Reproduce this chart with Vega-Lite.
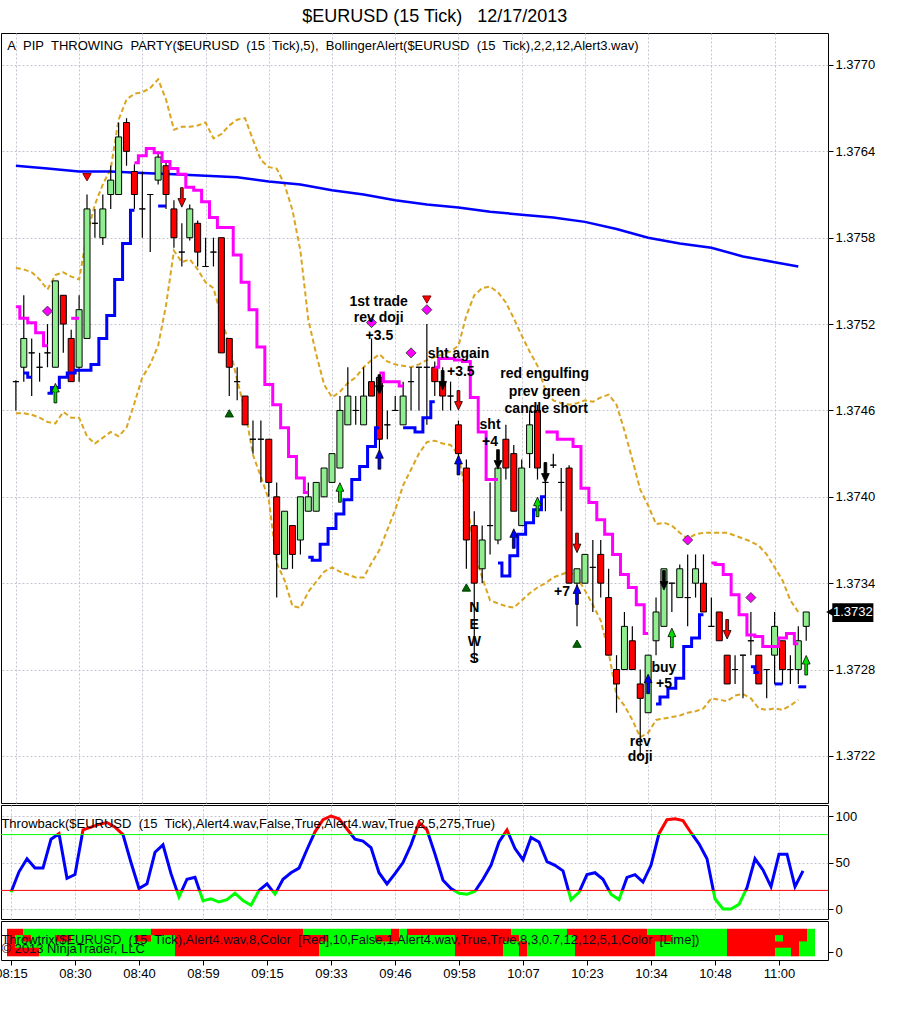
{
"$schema": "https://vega.github.io/schema/vega-lite/v6.json",
"padding": {"left": -6, "top": 7, "right": 2, "bottom": 2},
"background": "#ffffff",
"title": {"text": "$EURUSD (15 Tick)\u00a0\u00a0 12/17/2013", "fontSize": 18, "fontWeight": "normal", "color": "#000000", "anchor": "middle", "offset": 7, "font": "Liberation Sans"},
"spacing": 0,
"resolve": {"scale": {"color": "independent", "fill": "independent"}},
"config": {
 "font": "Liberation Sans",
 "view": {"stroke": "#000000", "strokeWidth": 1},
 "axis": {"labelFont": "Liberation Sans", "labelFontSize": 13, "labelColor": "#000000", "tickColor": "#000000", "domainColor": "#000000", "gridColor": "#c4c4d0", "gridDash": [2, 2], "gridWidth": 1, "tickSize": 5, "labelPadding": 2}
},
"datasets": {
 "bars": [
  {"i":0,"o":1.3748,"h":1.37481,"l":1.3746,"c":1.3748},
  {"i":1,"o":1.3749,"h":1.3754,"l":1.3748,"c":1.3751},
  {"i":2,"o":1.375,"h":1.3751,"l":1.3747,"c":1.375},
  {"i":3,"o":1.3749,"h":1.375,"l":1.3748,"c":1.3749},
  {"i":4,"o":1.375,"h":1.3752,"l":1.3749,"c":1.375},
  {"i":5,"o":1.3749,"h":1.3755,"l":1.3749,"c":1.3755},
  {"i":6,"o":1.3754,"h":1.3754,"l":1.375,"c":1.3752},
  {"i":7,"o":1.3751,"h":1.37516,"l":1.3748,"c":1.3748},
  {"i":8,"o":1.3749,"h":1.3754,"l":1.3748,"c":1.3753},
  {"i":9,"o":1.3751,"h":1.3761,"l":1.3751,"c":1.376},
  {"i":10,"o":1.3759,"h":1.376,"l":1.3758,"c":1.3759},
  {"i":11,"o":1.3758,"h":1.3761,"l":1.37575,"c":1.376},
  {"i":12,"o":1.3761,"h":1.3763,"l":1.376,"c":1.3762},
  {"i":13,"o":1.3761,"h":1.3766,"l":1.3761,"c":1.3765},
  {"i":14,"o":1.3766,"h":1.37663,"l":1.3763,"c":1.3764},
  {"i":15,"o":1.37626,"h":1.37631,"l":1.376,"c":1.3761},
  {"i":16,"o":1.376,"h":1.37626,"l":1.3758,"c":1.376},
  {"i":17,"o":1.3761,"h":1.3761,"l":1.3757,"c":1.3761},
  {"i":18,"o":1.3762,"h":1.3764,"l":1.37617,"c":1.37636},
  {"i":19,"o":1.3763,"h":1.37634,"l":1.376,"c":1.3761},
  {"i":20,"o":1.376,"h":1.37606,"l":1.37573,"c":1.3758},
  {"i":21,"o":1.3757,"h":1.3759,"l":1.3756,"c":1.3757},
  {"i":22,"o":1.3758,"h":1.37603,"l":1.37578,"c":1.376},
  {"i":23,"o":1.3759,"h":1.37592,"l":1.3756,"c":1.3757},
  {"i":24,"o":1.3756,"h":1.3758,"l":1.3756,"c":1.3756},
  {"i":25,"o":1.3757,"h":1.3758,"l":1.3756,"c":1.3757},
  {"i":26,"o":1.3758,"h":1.3758,"l":1.375,"c":1.375},
  {"i":27,"o":1.3751,"h":1.3751,"l":1.3747,"c":1.3749},
  {"i":28,"o":1.3748,"h":1.3749,"l":1.37467,"c":1.3748},
  {"i":29,"o":1.3747,"h":1.3747,"l":1.3745,"c":1.3745},
  {"i":30,"o":1.3744,"h":1.37453,"l":1.3743,"c":1.3744},
  {"i":31,"o":1.3744,"h":1.37453,"l":1.3741,"c":1.3744},
  {"i":32,"o":1.3744,"h":1.3744,"l":1.374,"c":1.3741},
  {"i":33,"o":1.374,"h":1.3741,"l":1.3733,"c":1.3736},
  {"i":34,"o":1.3735,"h":1.3739,"l":1.3735,"c":1.3739},
  {"i":35,"o":1.3738,"h":1.3738,"l":1.3735,"c":1.3736},
  {"i":36,"o":1.3737,"h":1.374,"l":1.3736,"c":1.374},
  {"i":37,"o":1.3739,"h":1.3741,"l":1.3739,"c":1.374},
  {"i":38,"o":1.3739,"h":1.3741,"l":1.3739,"c":1.3741},
  {"i":39,"o":1.374,"h":1.3742,"l":1.374,"c":1.3742},
  {"i":40,"o":1.3741,"h":1.3743,"l":1.3741,"c":1.3743},
  {"i":41,"o":1.3742,"h":1.3747,"l":1.3742,"c":1.3746},
  {"i":42,"o":1.3745,"h":1.3749,"l":1.3745,"c":1.3747},
  {"i":43,"o":1.3746,"h":1.3747,"l":1.3745,"c":1.3746},
  {"i":44,"o":1.3745,"h":1.3749,"l":1.3745,"c":1.3747},
  {"i":45,"o":1.3748,"h":1.3751,"l":1.3747,"c":1.3747},
  {"i":46,"o":1.37483,"h":1.37485,"l":1.3742,"c":1.3744},
  {"i":47,"o":1.3745,"h":1.3746,"l":1.3744,"c":1.3745},
  {"i":48,"o":1.3746,"h":1.3747,"l":1.3746,"c":1.3746},
  {"i":49,"o":1.3745,"h":1.3748,"l":1.3745,"c":1.3747},
  {"i":50,"o":1.3748,"h":1.3749,"l":1.3746,"c":1.3748},
  {"i":51,"o":1.3749,"h":1.3749,"l":1.3746,"c":1.3749},
  {"i":52,"o":1.3749,"h":1.3752,"l":1.3745,"c":1.3749},
  {"i":53,"o":1.3749,"h":1.37494,"l":1.3747,"c":1.3748},
  {"i":54,"o":1.3748,"h":1.3749,"l":1.3746,"c":1.3747},
  {"i":55,"o":1.3747,"h":1.3748,"l":1.3746,"c":1.3747},
  {"i":56,"o":1.3745,"h":1.37453,"l":1.3742,"c":1.3743},
  {"i":57,"o":1.3742,"h":1.37426,"l":1.3735,"c":1.3737},
  {"i":58,"o":1.3738,"h":1.3739,"l":1.37285,"c":1.3734},
  {"i":59,"o":1.3735,"h":1.3738,"l":1.3734,"c":1.3737},
  {"i":60,"o":1.3738,"h":1.3741,"l":1.3736,"c":1.3738},
  {"i":61,"o":1.3737,"h":1.3742,"l":1.37367,"c":1.3742},
  {"i":62,"o":1.3744,"h":1.3745,"l":1.37412,"c":1.3742},
  {"i":63,"o":1.3743,"h":1.37436,"l":1.3739,"c":1.3739},
  {"i":64,"o":1.3738,"h":1.37426,"l":1.3738,"c":1.3742},
  {"i":65,"o":1.3743,"h":1.3746,"l":1.3742,"c":1.3745},
  {"i":66,"o":1.3746,"h":1.37464,"l":1.37412,"c":1.3742},
  {"i":67,"o":1.3741,"h":1.37424,"l":1.3739,"c":1.3741},
  {"i":68,"o":1.37422,"h":1.3743,"l":1.3742,"c":1.37422},
  {"i":69,"o":1.3741,"h":1.3742,"l":1.3739,"c":1.3741},
  {"i":70,"o":1.3742,"h":1.37422,"l":1.3734,"c":1.3734},
  {"i":71,"o":1.3734,"h":1.3735,"l":1.3731,"c":1.3735},
  {"i":72,"o":1.3734,"h":1.3736,"l":1.3734,"c":1.3736},
  {"i":73,"o":1.37351,"h":1.3737,"l":1.3732,"c":1.37351},
  {"i":74,"o":1.3736,"h":1.3737,"l":1.3733,"c":1.3734},
  {"i":75,"o":1.3733,"h":1.3735,"l":1.3729,"c":1.3729},
  {"i":76,"o":1.3728,"h":1.3729,"l":1.3725,"c":1.3727},
  {"i":77,"o":1.3728,"h":1.3732,"l":1.3728,"c":1.3731},
  {"i":78,"o":1.373,"h":1.3731,"l":1.3728,"c":1.3728},
  {"i":79,"o":1.3727,"h":1.3728,"l":1.3722,"c":1.3726},
  {"i":80,"o":1.3725,"h":1.3729,"l":1.3725,"c":1.3729},
  {"i":81,"o":1.373,"h":1.3733,"l":1.3729,"c":1.3732},
  {"i":82,"o":1.3731,"h":1.3735,"l":1.3731,"c":1.3735},
  {"i":83,"o":1.3734,"h":1.3734,"l":1.3732,"c":1.3734},
  {"i":84,"o":1.3733,"h":1.37353,"l":1.3733,"c":1.3735},
  {"i":85,"o":1.3733,"h":1.3736,"l":1.3731,"c":1.3733},
  {"i":86,"o":1.3734,"h":1.3736,"l":1.3733,"c":1.3735},
  {"i":87,"o":1.3734,"h":1.3736,"l":1.3732,"c":1.3732},
  {"i":88,"o":1.3731,"h":1.3733,"l":1.3731,"c":1.3731},
  {"i":89,"o":1.3732,"h":1.3732,"l":1.373,"c":1.373},
  {"i":90,"o":1.3729,"h":1.3729,"l":1.3727,"c":1.3727},
  {"i":91,"o":1.3728,"h":1.3729,"l":1.3727,"c":1.3728},
  {"i":92,"o":1.3729,"h":1.3729,"l":1.3726,"c":1.3729},
  {"i":93,"o":1.373,"h":1.3732,"l":1.3729,"c":1.373},
  {"i":94,"o":1.3729,"h":1.3729,"l":1.3727,"c":1.3727},
  {"i":95,"o":1.3728,"h":1.3728,"l":1.3726,"c":1.3728},
  {"i":96,"o":1.3729,"h":1.3732,"l":1.3727,"c":1.3731},
  {"i":97,"o":1.373,"h":1.373,"l":1.3727,"c":1.3728},
  {"i":98,"o":1.3728,"h":1.3729,"l":1.3727,"c":1.3728},
  {"i":99,"o":1.3728,"h":1.3731,"l":1.3727,"c":1.373},
  {"i":100,"o":1.3731,"h":1.3732,"l":1.373,"c":1.3732}
 ],
 "bands": [
  {"i":0,"up":1.37559,"lo":1.37458},{"i":1,"up":1.37558,"lo":1.37458},{"i":2,"up":1.37556,"lo":1.37457},{"i":3,"up":1.37551,"lo":1.37455},{"i":4,"up":1.37544,"lo":1.37452},
  {"i":5,"up":1.37554,"lo":1.37451},{"i":6,"up":1.37556,"lo":1.37459},{"i":7,"up":1.37553,"lo":1.37455},{"i":8,"up":1.37551,"lo":1.37455},{"i":9,"up":1.37582,"lo":1.37442},
  {"i":10,"up":1.37603,"lo":1.37437},{"i":11,"up":1.37617,"lo":1.37441},{"i":12,"up":1.37628,"lo":1.37445},{"i":13,"up":1.37662,"lo":1.37442},{"i":14,"up":1.37676,"lo":1.37448},
  {"i":15,"up":1.3768,"lo":1.37465},{"i":16,"up":1.37681,"lo":1.37483},{"i":17,"up":1.37684,"lo":1.37492},{"i":18,"up":1.3769,"lo":1.37505},{"i":19,"up":1.37676,"lo":1.37533},
  {"i":20,"up":1.37655,"lo":1.37571},{"i":21,"up":1.37657,"lo":1.37563},{"i":22,"up":1.37657,"lo":1.37565},{"i":23,"up":1.37658,"lo":1.37558},{"i":24,"up":1.3766,"lo":1.37549},
  {"i":25,"up":1.37649,"lo":1.37545},{"i":26,"up":1.37652,"lo":1.37525},{"i":27,"up":1.37658,"lo":1.37505},{"i":28,"up":1.37662,"lo":1.37481},{"i":29,"up":1.37663,"lo":1.3746},
  {"i":30,"up":1.37648,"lo":1.37429},{"i":31,"up":1.37634,"lo":1.37414},{"i":32,"up":1.37629,"lo":1.37398},{"i":33,"up":1.37628,"lo":1.37354},{"i":34,"up":1.37617,"lo":1.37342},
  {"i":35,"up":1.37599,"lo":1.37324},{"i":36,"up":1.37571,"lo":1.37323},{"i":37,"up":1.37523,"lo":1.37334},{"i":38,"up":1.37499,"lo":1.37341},{"i":39,"up":1.37478,"lo":1.37348},
  {"i":40,"up":1.37469,"lo":1.37351},{"i":41,"up":1.37473,"lo":1.37348},{"i":42,"up":1.37479,"lo":1.37346},{"i":43,"up":1.37483,"lo":1.37344},{"i":44,"up":1.3749,"lo":1.37344},
  {"i":45,"up":1.37495,"lo":1.37354},{"i":46,"up":1.37499,"lo":1.37363},{"i":47,"up":1.37494,"lo":1.37377},{"i":48,"up":1.37492,"lo":1.37391},{"i":49,"up":1.37491,"lo":1.37408},
  {"i":50,"up":1.3749,"lo":1.37419},{"i":51,"up":1.37492,"lo":1.3743},{"i":52,"up":1.37495,"lo":1.37438},{"i":53,"up":1.37497,"lo":1.37439},{"i":54,"up":1.37499,"lo":1.37437},
  {"i":55,"up":1.37501,"lo":1.37436},{"i":56,"up":1.37505,"lo":1.37429},{"i":57,"up":1.37526,"lo":1.37401},{"i":58,"up":1.3754,"lo":1.37361},{"i":59,"up":1.37545,"lo":1.37344},
  {"i":60,"up":1.37546,"lo":1.37328},{"i":61,"up":1.37542,"lo":1.37326},{"i":62,"up":1.37535,"lo":1.37324},{"i":63,"up":1.37524,"lo":1.37323},{"i":64,"up":1.37512,"lo":1.37328},
  {"i":65,"up":1.37501,"lo":1.37333},{"i":66,"up":1.37491,"lo":1.37337},{"i":67,"up":1.37474,"lo":1.3734},{"i":68,"up":1.37467,"lo":1.37344},{"i":69,"up":1.37465,"lo":1.37346},
  {"i":70,"up":1.37464,"lo":1.37348},{"i":71,"up":1.37465,"lo":1.37344},{"i":72,"up":1.37467,"lo":1.37335},{"i":73,"up":1.37466,"lo":1.37325},{"i":74,"up":1.37469,"lo":1.37314},
  {"i":75,"up":1.37471,"lo":1.37292},{"i":76,"up":1.37464,"lo":1.37262},{"i":77,"up":1.37446,"lo":1.37255},{"i":78,"up":1.37426,"lo":1.37245},{"i":79,"up":1.37405,"lo":1.37233},
  {"i":80,"up":1.37394,"lo":1.37236},{"i":81,"up":1.37381,"lo":1.37245},{"i":82,"up":1.37382,"lo":1.37246},{"i":83,"up":1.3738,"lo":1.37247},{"i":84,"up":1.37375,"lo":1.37248},
  {"i":85,"up":1.37371,"lo":1.3725},{"i":86,"up":1.37374,"lo":1.37251},{"i":87,"up":1.37375,"lo":1.37253},{"i":88,"up":1.37375,"lo":1.3726},{"i":89,"up":1.37375,"lo":1.37259},
  {"i":90,"up":1.37375,"lo":1.37258},{"i":91,"up":1.37373,"lo":1.37262},{"i":92,"up":1.37371,"lo":1.37263},{"i":93,"up":1.37369,"lo":1.3726},{"i":94,"up":1.37366,"lo":1.37253},
  {"i":95,"up":1.3736,"lo":1.37252},{"i":96,"up":1.37351,"lo":1.37253},{"i":97,"up":1.37342,"lo":1.37252},{"i":98,"up":1.37328,"lo":1.37255},{"i":99,"up":1.3732,"lo":1.37259}
 ],
 "ma": [
  {"i":0,"v":1.3763},{"i":4,"v":1.37628},{"i":8,"v":1.37626},{"i":12,"v":1.37626},{"i":16,"v":1.37625},{"i":20,"v":1.37624},{"i":24,"v":1.37623},{"i":28,"v":1.37622},{"i":32,"v":1.37619},{"i":36,"v":1.37617},{"i":40,"v":1.37613},{"i":44,"v":1.3761},{"i":48,"v":1.37606},{"i":52,"v":1.37603},{"i":56,"v":1.37601},{"i":60,"v":1.37598},{"i":64,"v":1.37596},{"i":68,"v":1.37594},{"i":72,"v":1.37591},{"i":76,"v":1.37586},{"i":80,"v":1.3758},{"i":84,"v":1.37576},{"i":88,"v":1.37573},{"i":92,"v":1.37567},{"i":96,"v":1.37563},{"i":99,"v":1.3756}
 ],
 "stops": [
  {"i":0,"v":1.37532,"s":"s1","k":"short"},{"i":1,"v":1.37524,"s":"s1","k":"short"},{"i":2,"v":1.37521,"s":"s1","k":"short"},{"i":3,"v":1.37514,"s":"s1","k":"short"},{"i":4,"v":1.37505,"s":"s1","k":"short"},
  {"i":7,"v":1.37524,"s":"s2","k":"short"},{"i":8,"v":1.37524,"s":"s2","k":"short"},
  {"i":15,"v":1.37632,"s":"s3","k":"short"},{"i":16,"v":1.37637,"s":"s3","k":"short"},{"i":17,"v":1.37642,"s":"s3","k":"short"},{"i":18,"v":1.37639,"s":"s3","k":"short"},{"i":19,"v":1.37633,"s":"s3","k":"short"},{"i":20,"v":1.37628,"s":"s3","k":"short"},{"i":21,"v":1.37624,"s":"s3","k":"short"},{"i":22,"v":1.37615,"s":"s3","k":"short"},{"i":23,"v":1.37613,"s":"s3","k":"short"},{"i":24,"v":1.37605,"s":"s3","k":"short"},{"i":25,"v":1.37594,"s":"s3","k":"short"},{"i":26,"v":1.37587,"s":"s3","k":"short"},{"i":27,"v":1.37587,"s":"s3","k":"short"},{"i":28,"v":1.37568,"s":"s3","k":"short"},{"i":29,"v":1.37549,"s":"s3","k":"short"},{"i":30,"v":1.3753,"s":"s3","k":"short"},{"i":31,"v":1.37504,"s":"s3","k":"short"},{"i":32,"v":1.37478,"s":"s3","k":"short"},{"i":33,"v":1.37464,"s":"s3","k":"short"},{"i":34,"v":1.37448,"s":"s3","k":"short"},{"i":35,"v":1.37428,"s":"s3","k":"short"},{"i":36,"v":1.37413,"s":"s3","k":"short"},{"i":37,"v":1.37403,"s":"s3","k":"short"},
  {"i":46,"v":1.37486,"s":"s4","k":"short"},{"i":47,"v":1.3748,"s":"s4","k":"short"},{"i":48,"v":1.3748,"s":"s4","k":"short"},{"i":49,"v":1.37477,"s":"s4","k":"short"},
  {"i":53,"v":1.3749,"s":"s5","k":"short"},{"i":54,"v":1.37496,"s":"s5","k":"short"},{"i":55,"v":1.37496,"s":"s5","k":"short"},{"i":56,"v":1.37495,"s":"s5","k":"short"},{"i":57,"v":1.37494,"s":"s5","k":"short"},{"i":58,"v":1.37469,"s":"s5","k":"short"},{"i":59,"v":1.37445,"s":"s5","k":"short"},{"i":60,"v":1.37412,"s":"s5","k":"short"},{"i":61,"v":1.37412,"s":"s5","k":"short"},
  {"i":67,"v":1.37445,"s":"s6","k":"short"},{"i":68,"v":1.37445,"s":"s6","k":"short"},{"i":69,"v":1.3744,"s":"s6","k":"short"},{"i":70,"v":1.3744,"s":"s6","k":"short"},{"i":71,"v":1.37435,"s":"s6","k":"short"},{"i":72,"v":1.37406,"s":"s6","k":"short"},{"i":73,"v":1.37396,"s":"s6","k":"short"},{"i":74,"v":1.37384,"s":"s6","k":"short"},{"i":75,"v":1.37374,"s":"s6","k":"short"},{"i":76,"v":1.3736,"s":"s6","k":"short"},{"i":77,"v":1.37346,"s":"s6","k":"short"},{"i":78,"v":1.37337,"s":"s6","k":"short"},{"i":79,"v":1.37325,"s":"s6","k":"short"},{"i":80,"v":1.37305,"s":"s6","k":"short"},
  {"i":88,"v":1.37354,"s":"s7","k":"short"},{"i":89,"v":1.37353,"s":"s7","k":"short"},{"i":90,"v":1.37346,"s":"s7","k":"short"},{"i":91,"v":1.37332,"s":"s7","k":"short"},{"i":92,"v":1.37318,"s":"s7","k":"short"},{"i":93,"v":1.37304,"s":"s7","k":"short"},{"i":94,"v":1.37303,"s":"s7","k":"short"},{"i":95,"v":1.37296,"s":"s7","k":"short"},{"i":96,"v":1.37296,"s":"s7","k":"short"},{"i":97,"v":1.37302,"s":"s7","k":"short"},{"i":98,"v":1.37305,"s":"s7","k":"short"},{"i":99,"v":1.37298,"s":"s7","k":"short"},
  {"i":1,"v":1.37486,"s":"b1","k":"long"},{"i":2,"v":1.37483,"s":"b1","k":"long"},
  {"i":4,"v":1.37472,"s":"b2","k":"long"},{"i":5,"v":1.37476,"s":"b2","k":"long"},{"i":6,"v":1.37483,"s":"b2","k":"long"},{"i":7,"v":1.37486,"s":"b2","k":"long"},{"i":8,"v":1.37488,"s":"b2","k":"long"},{"i":9,"v":1.37488,"s":"b2","k":"long"},{"i":10,"v":1.37492,"s":"b2","k":"long"},{"i":11,"v":1.3751,"s":"b2","k":"long"},{"i":12,"v":1.37526,"s":"b2","k":"long"},{"i":13,"v":1.37551,"s":"b2","k":"long"},{"i":14,"v":1.37576,"s":"b2","k":"long"},{"i":15,"v":1.37599,"s":"b2","k":"long"},
  {"i":18,"v":1.37602,"s":"b3","k":"long"},{"i":19,"v":1.37602,"s":"b3","k":"long"},
  {"i":37,"v":1.37358,"s":"b4","k":"long"},{"i":38,"v":1.37356,"s":"b4","k":"long"},{"i":39,"v":1.37367,"s":"b4","k":"long"},{"i":40,"v":1.37378,"s":"b4","k":"long"},{"i":41,"v":1.37388,"s":"b4","k":"long"},{"i":42,"v":1.37398,"s":"b4","k":"long"},{"i":43,"v":1.37412,"s":"b4","k":"long"},{"i":44,"v":1.37421,"s":"b4","k":"long"},{"i":45,"v":1.37435,"s":"b4","k":"long"},{"i":46,"v":1.37448,"s":"b4","k":"long"},
  {"i":49,"v":1.37448,"s":"b5","k":"long"},{"i":50,"v":1.37448,"s":"b5","k":"long"},{"i":51,"v":1.37445,"s":"b5","k":"long"},{"i":52,"v":1.37455,"s":"b5","k":"long"},{"i":53,"v":1.37466,"s":"b5","k":"long"},
  {"i":61,"v":1.37354,"s":"b6","k":"long"},{"i":62,"v":1.37345,"s":"b6","k":"long"},{"i":63,"v":1.37359,"s":"b6","k":"long"},{"i":64,"v":1.37374,"s":"b6","k":"long"},{"i":65,"v":1.37382,"s":"b6","k":"long"},{"i":66,"v":1.37391,"s":"b6","k":"long"},{"i":67,"v":1.374,"s":"b6","k":"long"},
  {"i":81,"v":1.37256,"s":"b7","k":"long"},{"i":82,"v":1.37261,"s":"b7","k":"long"},{"i":83,"v":1.37267,"s":"b7","k":"long"},{"i":84,"v":1.37274,"s":"b7","k":"long"},{"i":85,"v":1.37296,"s":"b7","k":"long"},{"i":86,"v":1.37302,"s":"b7","k":"long"},{"i":87,"v":1.37318,"s":"b7","k":"long"},
  {"i":93,"v":1.37282,"s":"b8","k":"long"},{"i":94,"v":1.37278,"s":"b8","k":"long"},
  {"i":96,"v":1.3727,"s":"b9","k":"long"},{"i":97,"v":1.3727,"s":"b9","k":"long"},
  {"i":99,"v":1.37268,"s":"b10","k":"long"},{"i":100,"v":1.37268,"s":"b10","k":"long"}
 ],
 "sig": [
  {"i":4,"p":1.37529,"k":"dia"},{"i":45,"p":1.37521,"k":"dia"},{"i":50,"p":1.375,"k":"dia"},{"i":52,"p":1.3753,"k":"dia"},{"i":85,"p":1.3737,"k":"dia"},{"i":93,"p":1.3733,"k":"dia"},
  {"i":9,"p":1.37622,"k":"tdn"},{"i":52,"p":1.37537,"k":"tdn"},
  {"i":27,"p":1.37458,"k":"tup"},{"i":57,"p":1.37337,"k":"tup"},{"i":71,"p":1.37298,"k":"tup"}
 ],
 "arrows": [
  {"i":5,"p":1.37472,"k":"upG"},{"i":41,"p":1.37403,"k":"upG"},{"i":66,"p":1.37393,"k":"upG"},{"i":83,"p":1.37302,"k":"upG"},{"i":100,"p":1.37283,"k":"upG"},
  {"i":46,"p":1.37426,"k":"upB"},{"i":56,"p":1.37422,"k":"upB"},{"i":63,"p":1.37371,"k":"upB"},{"i":71,"p":1.37332,"k":"upB"},{"i":80,"p":1.3727,"k":"upB"},
  {"i":46,"p":1.37478,"k":"dnK"},{"i":54,"p":1.37481,"k":"dnK"},{"i":61,"p":1.37426,"k":"dnK"},{"i":67,"p":1.37417,"k":"dnK"},{"i":82,"p":1.37342,"k":"dnK"},
  {"i":21,"p":1.37608,"k":"dnR"},{"i":56,"p":1.37467,"k":"dnR"},{"i":71,"p":1.37368,"k":"dnR"},{"i":90,"p":1.37308,"k":"dnR"}
 ],
 "notes": [
  {"i":45.9,"p":1.37535,"t":"1st trade"},{"i":45.9,"p":1.37524,"t":"rev doji"},{"i":46,"p":1.37512,"t":"+3.5"},
  {"i":56,"p":1.37499,"t":"sht again"},{"i":56.3,"p":1.37487,"t":"+3.5"},
  {"i":66.9,"p":1.37485,"t":"red engulfing"},{"i":66.9,"p":1.37473,"t":"prev green"},{"i":67.1,"p":1.37461,"t":"candle short"},
  {"i":60,"p":1.3745,"t":"sht"},{"i":60,"p":1.37438,"t":"+4"},
  {"i":58,"p":1.37323,"t":"N"},{"i":58,"p":1.37311,"t":"E"},{"i":58,"p":1.37299,"t":"W"},{"i":58,"p":1.37287,"t":"S"},
  {"i":69.1,"p":1.37334,"t":"+7"},
  {"i":82,"p":1.37281,"t":"buy"},{"i":82,"p":1.3727,"t":"+5"},
  {"i":79,"p":1.3723,"t":"rev"},{"i":79,"p":1.37219,"t":"doji"}
 ],
 "osc": [
  {"i":0,"v":18},{"i":1,"v":40},{"i":2,"v":54},{"i":3,"v":44},{"i":4,"v":44},{"i":5,"v":75},{"i":6,"v":81},{"i":7,"v":33},{"i":8,"v":37},{"i":9,"v":85},
  {"i":10,"v":88},{"i":11,"v":91},{"i":12,"v":93},{"i":13,"v":88},{"i":14,"v":80},{"i":15,"v":50},{"i":16,"v":22},{"i":17,"v":27},{"i":18,"v":61},{"i":19,"v":69},
  {"i":20,"v":38},{"i":21,"v":13},{"i":22,"v":32},{"i":23,"v":34},{"i":24,"v":9},{"i":25,"v":11},{"i":26,"v":7.5},{"i":27,"v":10},{"i":28,"v":17},{"i":29,"v":9},
  {"i":30,"v":4},{"i":31,"v":20},{"i":32,"v":27},{"i":33,"v":16},{"i":34,"v":32},{"i":35,"v":39},{"i":36,"v":44},{"i":37,"v":64},{"i":38,"v":83},{"i":39,"v":96},
  {"i":40,"v":100},{"i":41,"v":97},{"i":42,"v":86},{"i":43,"v":75},{"i":44,"v":73},{"i":45,"v":66},{"i":46,"v":39},{"i":47,"v":27},{"i":48,"v":38},{"i":49,"v":50},
  {"i":50,"v":69},{"i":51,"v":93},{"i":52,"v":85},{"i":53,"v":59},{"i":54,"v":31},{"i":55,"v":22},{"i":56,"v":17},{"i":57,"v":16},{"i":58,"v":19},{"i":59,"v":32},
  {"i":60,"v":47},{"i":61,"v":72},{"i":62,"v":85},{"i":63,"v":65},{"i":64,"v":53},{"i":65,"v":77},{"i":66,"v":72},{"i":67,"v":51},{"i":68,"v":47},{"i":69,"v":41},
  {"i":70,"v":10},{"i":71,"v":18},{"i":72,"v":37},{"i":73,"v":39},{"i":74,"v":32},{"i":75,"v":16},{"i":76,"v":10},{"i":77,"v":34},{"i":78,"v":37},{"i":79,"v":29},
  {"i":80,"v":47},{"i":81,"v":81},{"i":82,"v":96},{"i":83,"v":97},{"i":84,"v":95},{"i":85,"v":82},{"i":86,"v":70},{"i":87,"v":54},{"i":88,"v":11},{"i":89,"v":0},
  {"i":90,"v":0},{"i":91,"v":5},{"i":92,"v":23},{"i":93,"v":54},{"i":94,"v":42},{"i":95,"v":24},{"i":96,"v":59},{"i":97,"v":59},{"i":98,"v":24},{"i":99,"v":41}
 ],
 "trix": [
  {"x0":-0.5,"x1":1.5,"r":3,"st":"dn"},{"x0":1.5,"x1":17.5,"r":3,"st":"up"},{"x0":17.5,"x1":36.5,"r":3,"st":"dn"},{"x0":36.5,"x1":47.5,"r":3,"st":"up"},{"x0":47.5,"x1":48.5,"r":3,"st":"dn"},{"x0":48.5,"x1":49.5,"r":3,"st":"up"},{"x0":49.5,"x1":62.5,"r":3,"st":"dn"},{"x0":62.5,"x1":69.5,"r":3,"st":"up"},{"x0":69.5,"x1":79.5,"r":3,"st":"dn"},{"x0":79.5,"x1":89.5,"r":3,"st":"up"},{"x0":89.5,"x1":99.5,"r":3,"st":"dn"},{"x0":99.5,"x1":100.5,"r":3,"st":"up"},
  {"x0":-0.5,"x1":0.5,"r":2,"st":"dn"},{"x0":0.5,"x1":1.5,"r":2,"st":"up"},{"x0":1.5,"x1":2.5,"r":2,"st":"dn"},{"x0":2.5,"x1":5.5,"r":2,"st":"up"},{"x0":5.5,"x1":7.5,"r":2,"st":"dn"},{"x0":7.5,"x1":15.5,"r":2,"st":"up"},{"x0":15.5,"x1":17.5,"r":2,"st":"dn"},{"x0":17.5,"x1":20.5,"r":2,"st":"up"},{"x0":20.5,"x1":39.5,"r":2,"st":"dn"},{"x0":39.5,"x1":45.5,"r":2,"st":"up"},{"x0":45.5,"x1":48.5,"r":2,"st":"dn"},{"x0":48.5,"x1":55.5,"r":2,"st":"up"},{"x0":55.5,"x1":63.5,"r":2,"st":"dn"},{"x0":63.5,"x1":70.5,"r":2,"st":"up"},{"x0":70.5,"x1":82.5,"r":2,"st":"dn"},{"x0":82.5,"x1":89.5,"r":2,"st":"up"},{"x0":89.5,"x1":95.5,"r":2,"st":"dn"},{"x0":95.5,"x1":96.5,"r":2,"st":"up"},{"x0":96.5,"x1":99.5,"r":2,"st":"dn"},{"x0":99.5,"x1":100.5,"r":2,"st":"up"},
  {"x0":-0.5,"x1":0.5,"r":1,"st":"dn"},{"x0":0.5,"x1":20.5,"r":1,"st":"up"},{"x0":20.5,"x1":38.5,"r":1,"st":"dn"},{"x0":38.5,"x1":55.5,"r":1,"st":"up"},{"x0":55.5,"x1":61.5,"r":1,"st":"dn"},{"x0":61.5,"x1":63.5,"r":1,"st":"up"},{"x0":63.5,"x1":64.5,"r":1,"st":"dn"},{"x0":64.5,"x1":70.5,"r":1,"st":"up"},{"x0":70.5,"x1":80.5,"r":1,"st":"dn"},{"x0":80.5,"x1":89.5,"r":1,"st":"up"},{"x0":89.5,"x1":98.5,"r":1,"st":"dn"},{"x0":98.5,"x1":100.5,"r":1,"st":"up"},
  {"x0":-0.5,"x1":3.5,"r":0,"st":"dn"},{"x0":3.5,"x1":20.5,"r":0,"st":"up"},{"x0":20.5,"x1":38.5,"r":0,"st":"dn"},{"x0":38.5,"x1":55.5,"r":0,"st":"up"},{"x0":55.5,"x1":61.5,"r":0,"st":"dn"},{"x0":61.5,"x1":63.5,"r":0,"st":"up"},{"x0":63.5,"x1":64.5,"r":0,"st":"dn"},{"x0":64.5,"x1":70.5,"r":0,"st":"up"},{"x0":70.5,"x1":80.5,"r":0,"st":"dn"},{"x0":80.5,"x1":89.5,"r":0,"st":"up"},{"x0":89.5,"x1":95.5,"r":0,"st":"dn"},{"x0":95.5,"x1":97.5,"r":0,"st":"up"},{"x0":97.5,"x1":98.5,"r":0,"st":"dn"},{"x0":98.5,"x1":100.5,"r":0,"st":"up"}
 ]
},
"vconcat": [
 {
  "width": 827, "height": 770,
  "layer": [
   {"data": {"name": "bands"}, "mark": {"type": "line", "color": "#DAA520", "strokeWidth": 2, "strokeDash": [5, 3]},
    "encoding": {
     "x": {"field": "i", "type": "quantitative", "scale": {"domain": [-1.25, 102.125], "nice": false, "zero": false}, "axis": {"values": [0,8,16,24,32,40,48,56,64,72,80,88,96], "labels": false, "ticks": false, "domain": false, "grid": true, "title": null}},
     "y": {"field": "up", "type": "quantitative", "scale": {"domain": [1.371873, 1.377222], "nice": false, "zero": false}, "axis": {"orient": "right", "values": [1.3722,1.3728,1.3734,1.374,1.3746,1.3752,1.3758,1.3764,1.377], "format": ".4f", "grid": true, "domain": false, "title": null}}
    }},
   {"data": {"name": "bands"}, "mark": {"type": "line", "color": "#DAA520", "strokeWidth": 2, "strokeDash": [5, 3]},
    "encoding": {"x": {"field": "i", "type": "quantitative", "title": null}, "y": {"field": "lo", "type": "quantitative", "title": null}}},
   {"data": {"name": "ma"}, "mark": {"type": "line", "color": "#0000FF", "strokeWidth": 2.5},
    "encoding": {"x": {"field": "i", "type": "quantitative", "title": null}, "y": {"field": "v", "type": "quantitative", "title": null}}},
   {"data": {"name": "bars"}, "mark": {"type": "rule", "color": "#000000", "strokeWidth": 1.2},
    "encoding": {"x": {"field": "i", "type": "quantitative", "title": null}, "y": {"field": "l", "type": "quantitative", "title": null}, "y2": {"field": "h"}}},
   {"data": {"name": "bars"}, "mark": {"type": "bar", "width": 6, "stroke": "#000000", "strokeWidth": 1},
    "encoding": {"x": {"field": "i", "type": "quantitative", "title": null}, "y": {"field": "o", "type": "quantitative", "title": null}, "y2": {"field": "c"},
     "fill": {"condition": {"test": "datum.c > datum.o", "value": "#90EE90"}, "value": "#FF0000"}}},
   {"data": {"name": "stops"}, "mark": {"type": "line", "interpolate": "step", "strokeWidth": 3},
    "encoding": {"x": {"field": "i", "type": "quantitative", "title": null}, "y": {"field": "v", "type": "quantitative", "title": null},
     "color": {"field": "k", "type": "nominal", "scale": {"domain": ["short", "long"], "range": ["#FF00FF", "#0000FF"]}, "legend": null},
     "detail": {"field": "s", "type": "nominal"}}},
   {"data": {"name": "sig"}, "transform": [{"filter": "datum.k == 'dia'"}], "mark": {"type": "point", "shape": "diamond", "filled": true, "fill": "#FF00FF", "stroke": "#404040", "strokeWidth": 1, "size": 100, "opacity": 1},
    "encoding": {"x": {"field": "i", "type": "quantitative", "title": null}, "y": {"field": "p", "type": "quantitative", "title": null}}},
   {"data": {"name": "sig"}, "transform": [{"filter": "datum.k == 'tdn'"}], "mark": {"type": "point", "shape": "triangle-down", "filled": true, "fill": "#FF0000", "stroke": "#800000", "strokeWidth": 1, "size": 70, "opacity": 1},
    "encoding": {"x": {"field": "i", "type": "quantitative", "title": null}, "y": {"field": "p", "type": "quantitative", "title": null}}},
   {"data": {"name": "sig"}, "transform": [{"filter": "datum.k == 'tup'"}], "mark": {"type": "point", "shape": "triangle-up", "filled": true, "fill": "#006400", "stroke": "#004000", "strokeWidth": 1, "size": 70, "opacity": 1},
    "encoding": {"x": {"field": "i", "type": "quantitative", "title": null}, "y": {"field": "p", "type": "quantitative", "title": null}}},
   {"data": {"name": "arrows"}, "transform": [{"filter": "datum.k == 'upG' || datum.k == 'upB'"}], "mark": {"type": "point", "shape": "arrow", "filled": true, "stroke": "#000000", "strokeWidth": 0.8, "size": 380, "opacity": 1, "angle": 0},
    "encoding": {"x": {"field": "i", "type": "quantitative", "title": null}, "y": {"field": "p", "type": "quantitative", "title": null},
     "fill": {"field": "k", "type": "nominal", "scale": {"domain": ["upG", "upB", "dnK", "dnR"], "range": ["#00E000", "#0000FF", "#000000", "#FF0000"]}, "legend": null}}},
   {"data": {"name": "arrows"}, "transform": [{"filter": "datum.k == 'dnK' || datum.k == 'dnR'"}], "mark": {"type": "point", "shape": "arrow", "filled": true, "stroke": "#000000", "strokeWidth": 0.8, "size": 380, "opacity": 1, "angle": 180},
    "encoding": {"x": {"field": "i", "type": "quantitative", "title": null}, "y": {"field": "p", "type": "quantitative", "title": null},
     "fill": {"field": "k", "type": "nominal", "scale": {"domain": ["upG", "upB", "dnK", "dnR"], "range": ["#00E000", "#0000FF", "#000000", "#FF0000"]}, "legend": null}}},
   {"data": {"name": "notes"}, "mark": {"type": "text", "fontWeight": "bold", "fontSize": 14, "color": "#000000", "align": "center", "baseline": "middle"},
    "encoding": {"x": {"field": "i", "type": "quantitative", "title": null}, "y": {"field": "p", "type": "quantitative", "title": null}, "text": {"field": "t"}}},
   {"data": {"values": [{"i": -1.1, "p": 1.37713, "t": "A\u00a0 PIP\u00a0 THROWING\u00a0 PARTY($EURUSD\u00a0 (15\u00a0 Tick),5),\u00a0 BollingerAlert($EURUSD\u00a0 (15\u00a0 Tick),2,2,12,Alert3.wav)"}]},
    "mark": {"type": "text", "fontSize": 13, "color": "#000000", "align": "left", "baseline": "middle"},
    "encoding": {"x": {"field": "i", "type": "quantitative", "title": null}, "y": {"field": "p", "type": "quantitative", "title": null}, "text": {"field": "t"}}},
   {"data": {"values": [{"x0": 103.3, "x1": 108.5, "p0": 1.37313, "p1": 1.37326}]},
    "mark": {"type": "rect", "color": "#000000"},
    "encoding": {"x": {"field": "x0", "type": "quantitative", "title": null}, "x2": {"field": "x1"}, "y": {"field": "p0", "type": "quantitative", "title": null}, "y2": {"field": "p1"}}},
   {"data": {"values": [{"i": 103.1, "p": 1.3732}]},
    "mark": {"type": "point", "shape": "triangle-left", "filled": true, "color": "#000000", "size": 110, "opacity": 1},
    "encoding": {"x": {"field": "i", "type": "quantitative", "title": null}, "y": {"field": "p", "type": "quantitative", "title": null}}},
   {"data": {"values": [{"i": 105.9, "p": 1.3732, "t": "1.3732"}]},
    "mark": {"type": "text", "fontSize": 13, "color": "#FFFFFF", "align": "center", "baseline": "middle"},
    "encoding": {"x": {"field": "i", "type": "quantitative", "title": null}, "y": {"field": "p", "type": "quantitative", "title": null}, "text": {"field": "t"}}}
  ]
 },
 {
  "width": 827, "height": 114,
  "layer": [
   {"data": {"name": "osc"}, "mark": {"type": "line", "strokeWidth": 3,
     "stroke": {"gradient": "linear", "x1": 0, "y1": 0, "x2": 0, "y2": 1, "stops": [{"offset": 0, "color": "#FF0000"}, {"offset": 0.2, "color": "#FF0000"}, {"offset": 0.2, "color": "#0000FF"}, {"offset": 0.8, "color": "#0000FF"}, {"offset": 0.8, "color": "#00FF00"}, {"offset": 1, "color": "#00FF00"}]}},
    "encoding": {
     "x": {"field": "i", "type": "quantitative", "scale": {"domain": [-1.25, 102.125], "nice": false, "zero": false}, "axis": {"values": [0,8,16,24,32,40,48,56,64,72,80,88,96], "labels": false, "ticks": false, "domain": false, "grid": true, "title": null}},
     "y": {"field": "v", "type": "quantitative", "scale": {"domain": [-10.75, 111.83], "nice": false, "zero": false}, "axis": {"orient": "right", "values": [0, 50, 100], "grid": true, "domain": false, "title": null}}
    }},
   {"data": {"values": [{"v": 80}]}, "mark": {"type": "rule", "color": "#00FF00", "strokeWidth": 1}, "encoding": {"y": {"field": "v", "type": "quantitative", "title": null}}},
   {"data": {"values": [{"v": 20}]}, "mark": {"type": "rule", "color": "#FF0000", "strokeWidth": 1}, "encoding": {"y": {"field": "v", "type": "quantitative", "title": null}}},
   {"data": {"values": [{"i": -1.2, "v": 91.4, "t": "Throwback($EURUSD\u00a0 (15\u00a0 Tick),Alert4.wav,False,True,Alert4.wav,True,2,5,275,True)"}]},
    "mark": {"type": "text", "fontSize": 13, "color": "#000000", "align": "left", "baseline": "middle"},
    "encoding": {"x": {"field": "i", "type": "quantitative", "title": null}, "y": {"field": "v", "type": "quantitative", "title": null}, "text": {"field": "t"}}}
  ]
 },
 {
  "width": 827, "height": 39,
  "layer": [
   {"data": {"name": "trix"}, "mark": {"type": "bar", "height": 8.6, "clip": true},
    "encoding": {
     "x": {"field": "x0", "type": "quantitative", "scale": {"domain": [-1.25, 102.125], "nice": false, "zero": false},
       "axis": {"values": [0,8,16,24,32,40,48,56,64,72,80,88,96], "labelExpr": "['08:15','08:30','08:40','08:59','09:15','09:33','09:46','09:58','10:07','10:23','10:34','10:48','11:00'][round(datum.value/8)]", "grid": false, "domain": false, "ticks": true, "title": null}},
     "x2": {"field": "x1"},
     "y": {"field": "r", "type": "quantitative", "scale": {"domain": [-0.47, 4.118], "nice": false, "zero": false}, "axis": {"orient": "right", "values": [0], "grid": false, "domain": false, "title": null}},
     "color": {"field": "st", "type": "nominal", "scale": {"domain": ["dn", "up"], "range": ["#FF0000", "#00FF00"]}, "legend": null}
    }},
   {"data": {"values": [{"i": -1.2, "v": 1.9, "t": "Throwtrix($EURUSD\u00a0 (15\u00a0 Tick),Alert4.wav,8,Color\u00a0 [Red],10,False,1,Alert4.wav,True,True,8,3,0.7,12,12,5,1,Color\u00a0 [Lime])"}, {"i": -1.2, "v": 0.45, "t": "© 2013 NinjaTrader, LLC"}]},
    "mark": {"type": "text", "fontSize": 13, "color": "#101020", "align": "left", "baseline": "middle"},
    "encoding": {"x": {"field": "i", "type": "quantitative", "title": null}, "y": {"field": "v", "type": "quantitative", "title": null}, "text": {"field": "t"}}}
  ]
 }
]
}
